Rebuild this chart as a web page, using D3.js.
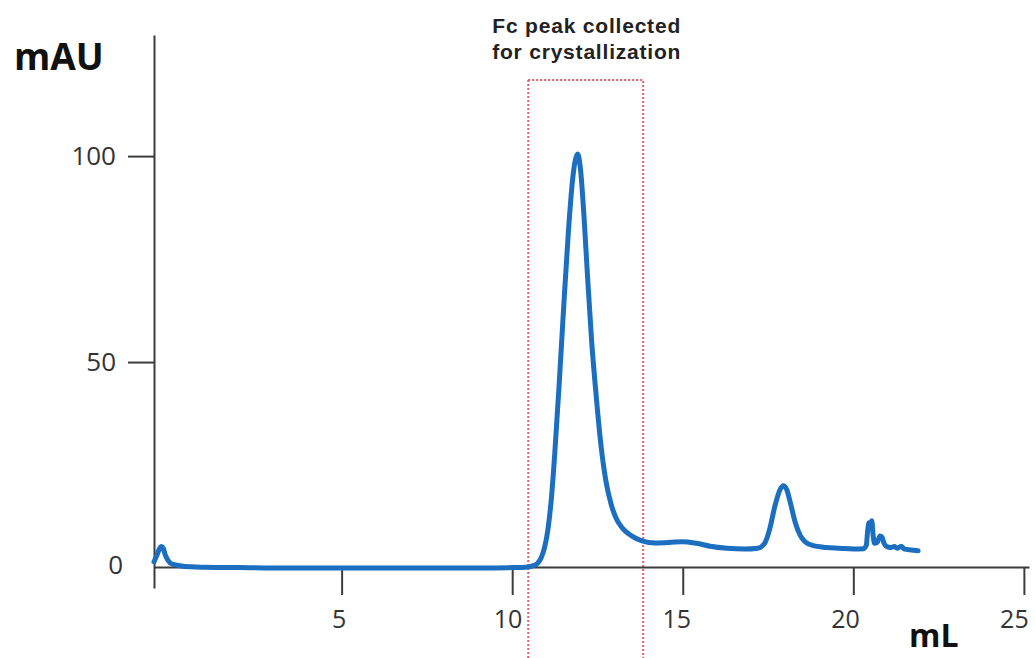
<!DOCTYPE html>
<html>
<head>
<meta charset="utf-8">
<script src="https://cdn.jsdelivr.net/npm/d3@7"></script>
<style>
  body { margin: 0; background: #fff; }
  svg { display: block; }
  .tick text { font-family: "Open Sans", sans-serif; fill: #333; }
</style>
</head>
<body>
<svg id="chart"></svg>
<script>
// elution volume (mL) and absorbance (mAU)
const volume = [-0.5, -0.42, -0.35, -0.28, -0.23, -0.17, -0.1, -0.02, 0.1, 0.3, 0.6, 1, 2, 3, 4, 5, 6, 7, 8, 9, 10,
    10.4, 10.6, 10.75, 10.85, 10.95, 11.05, 11.15, 11.25, 11.38, 11.5, 11.65, 11.78, 11.85, 11.92, 12.0, 12.1, 12.2,
    12.33, 12.46, 12.6, 12.75, 12.9, 13.05, 13.25, 13.5, 13.8, 14.2, 14.6, 15.0, 15.4, 15.8, 16.3, 16.8, 17.2, 17.4,
    17.55, 17.7, 17.85, 17.95, 18.05, 18.15, 18.3, 18.45, 18.6, 18.8, 19.2, 19.6, 20.0, 20.3, 20.38, 20.42, 20.46,
    20.5, 20.54, 20.58, 20.62, 20.7, 20.78, 20.84, 20.9, 20.98, 21.1, 21.2, 21.3, 21.4, 21.5, 21.7, 21.9];
const absorbance = [1.5, 3, 4.5, 5.2, 4.8, 3.2, 2, 1.2, 0.8, 0.5, 0.3, 0.2, 0.1, 0, 0, 0, 0, 0, 0, 0, 0.1,
    0.2, 0.5, 1.2, 2.5, 5, 9.5, 17, 28, 45, 62, 82, 95, 99, 100.5, 97, 86, 72,
    55, 42, 30, 21, 15.5, 12, 9.5, 7.8, 6.6, 6.1, 6.2, 6.4, 6.0, 5.3, 4.8, 4.6, 4.8, 6,
    9.5, 15, 19, 20, 19, 16, 11, 7.8, 6.3, 5.5, 5, 4.8, 4.6, 4.7, 5.5, 9, 11,
    10, 11.5, 8, 6, 6.2, 7.8, 7.5, 6, 5.2, 5, 5.2, 4.8, 5.3, 4.6, 4.4, 4.2];

const xTicks = [5, 10, 15, 20, 25];
const yTicks = [0, 50, 100];

// collected fraction window
const collectStart = 10.47;
const collectEnd = 13.84;
const collectTop = 118.5;
const collectLabel = ["Fc peak collected", "for crystallization"];

const W = 1035, H = 658;
const svg = d3.select("#chart").attr("width", W).attr("height", H);

const x = d3.scaleLinear().domain([-0.5, 25.15]).range([154, 1029]);
const y = d3.scaleLinear().domain([-4.85, 129.4]).range([588, 35]);

const data = volume.map((v, i) => ({ v: v, a: absorbance[i] }));

// dotted box around the collected peak
svg.append("rect")
    .attr("x", x(collectStart))
    .attr("y", y(collectTop))
    .attr("width", x(collectEnd) - x(collectStart))
    .attr("height", H + 20 - y(collectTop))
    .attr("fill", "none")
    .attr("stroke", "#e0606e")
    .attr("stroke-width", 2)
    .attr("stroke-dasharray", "2,2");

const ann = svg.append("text")
    .attr("x", (x(collectStart) + x(collectEnd)) / 2 + 1)
    .attr("text-anchor", "middle")
    .style("font-family", "Liberation Sans, Arial, sans-serif")
    .style("font-weight", "bold")
    .style("font-size", "21px")
    .style("letter-spacing", "0.8px")
    .style("fill", "#222");
collectLabel.forEach((t, i) => {
    ann.append("tspan").attr("x", ann.attr("x")).attr("y", 33 + i * 26).text(t);
});

// x axis
const xAxis = svg.append("g")
    .attr("transform", `translate(0,${y(0) - 1})`)
    .call(d3.axisBottom(x).tickValues(xTicks).tickSizeInner(28).tickSizeOuter(0));
xAxis.selectAll("text")
    .attr("dy", null)
    .attr("y", 61)
    .attr("x", d => -3 - (d - 5) * 0.35)
    .style("font-size", "25px");

// y axis
const yAxis = svg.append("g")
    .attr("transform", `translate(${x(-0.5)},0)`)
    .call(d3.axisLeft(y).tickValues(yTicks).tickSizeInner(26).tickSizeOuter(0));
yAxis.selectAll("text").attr("x", -38).style("font-size", "26px");
yAxis.selectAll(".tick").filter(d => d === 0).each(function () {
    d3.select(this).select("line").remove();
    d3.select(this).select("text").attr("x", -31).attr("dy", "0.2em");
});

svg.selectAll(".domain, .tick line")
    .attr("stroke", "#3c3c3c")
    .attr("stroke-width", 2);

// trace
svg.append("path")
    .datum(data)
    .attr("fill", "none")
    .attr("stroke", "#1c6fc0")
    .attr("stroke-width", 5)
    .attr("stroke-linejoin", "round")
    .attr("stroke-linecap", "round")
    .attr("d", d3.line().x(d => x(d.v)).y(d => y(d.a)).curve(d3.curveMonotoneX));

// axis titles
svg.append("text")
    .attr("x", 14).attr("y", 70)
    .style("font-family", "Open Sans, sans-serif")
    .style("font-weight", "bold")
    .style("font-size", "37px")
    .style("fill", "#111")
    .text("mAU");

svg.append("text")
    .attr("x", 909).attr("y", 647)
    .style("font-family", "Open Sans, sans-serif")
    .style("font-weight", "bold")
    .style("font-size", "32px")
    .style("fill", "#111")
    .text("mL");
</script>
</body>
</html>
